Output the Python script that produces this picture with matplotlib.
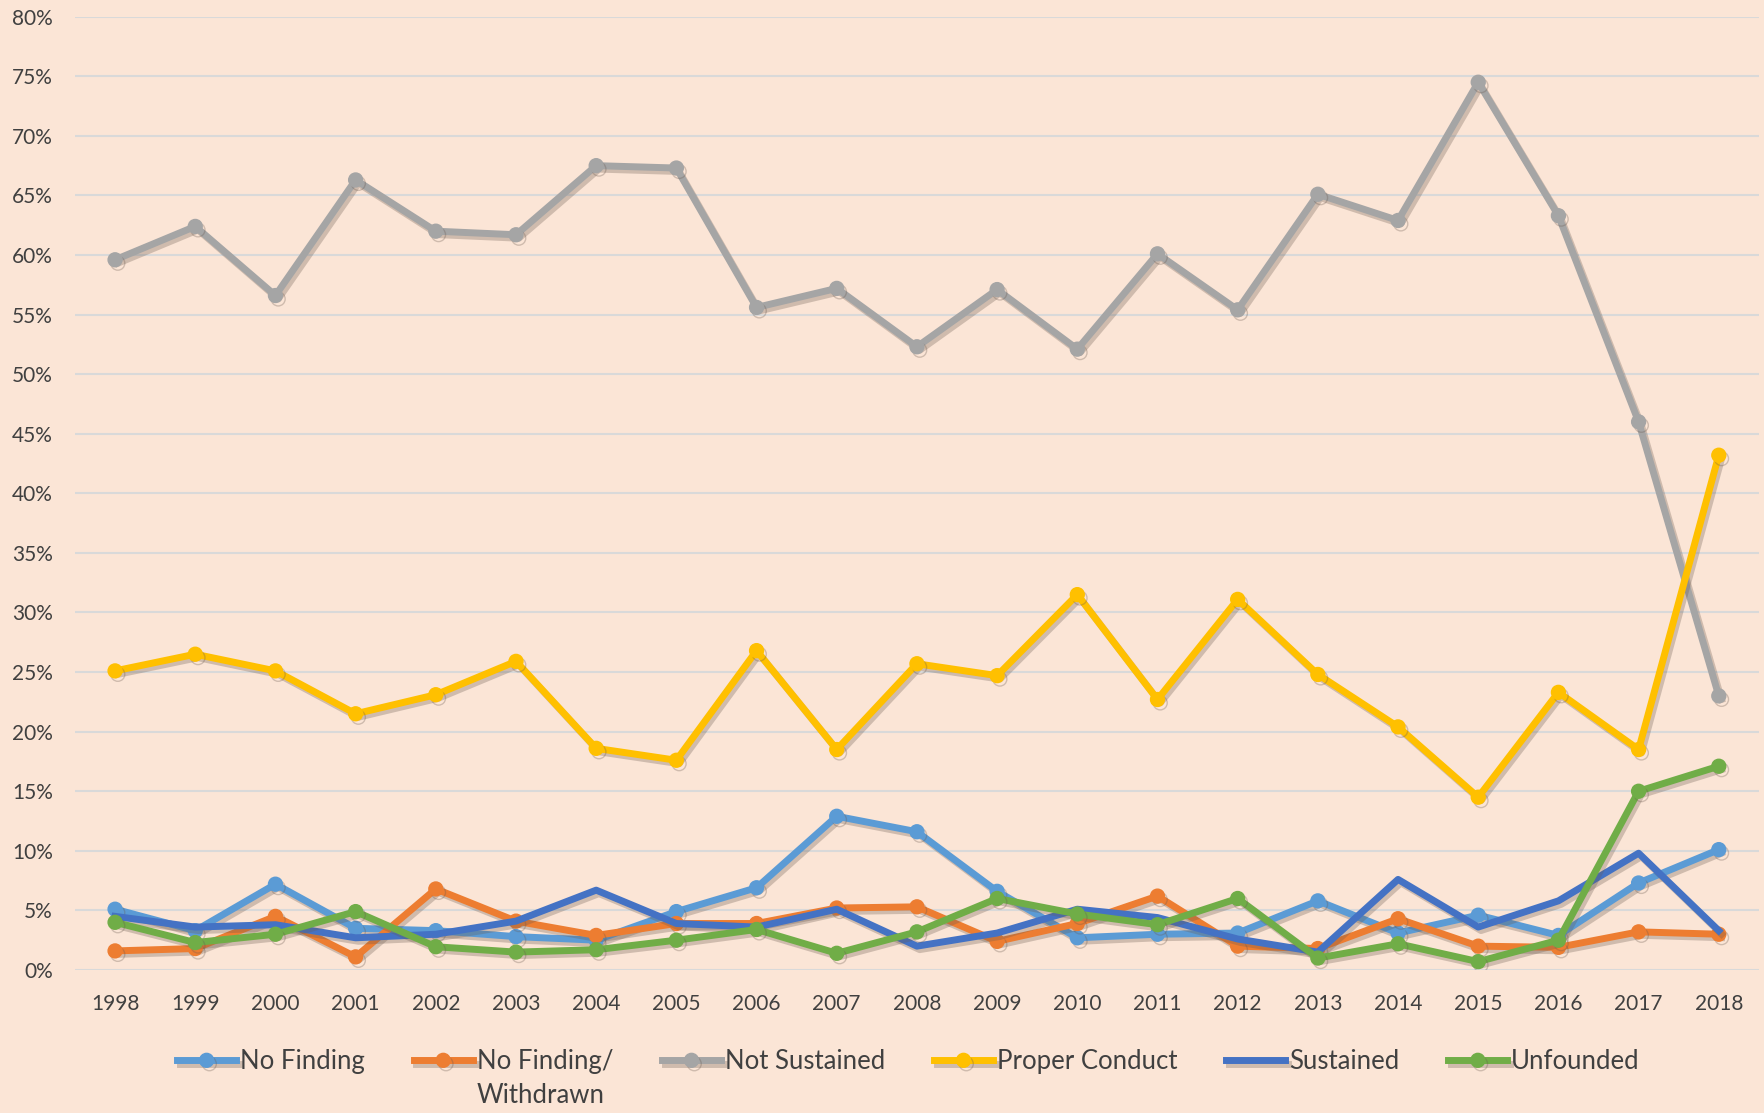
import matplotlib
matplotlib.use("Agg")
import matplotlib.pyplot as plt
import matplotlib.patheffects as pe
from matplotlib.ticker import PercentFormatter

plt.rcParams['font.family'] = ['Lato', 'DejaVu Sans']

years = [str(y) for y in range(1998, 2019)]

no_finding = [5.1, 3.3, 7.2, 3.5, 3.3, 2.8, 2.5, 4.9, 6.9, 12.9, 11.6, 6.6, 2.7, 3.0, 3.1, 5.8, 3.1, 4.6, 2.9, 7.3, 10.1]
no_finding_withdrawn = [1.6, 1.8, 4.5, 1.1, 6.8, 4.1, 2.9, 3.9, 3.9, 5.2, 5.3, 2.4, 3.9, 6.2, 2.0, 1.8, 4.3, 2.0, 1.9, 3.2, 3.0]
not_sustained = [59.6, 62.4, 56.6, 66.3, 62.0, 61.7, 67.5, 67.3, 55.6, 57.2, 52.3, 57.1, 52.1, 60.1, 55.4, 65.1, 62.9, 74.5, 63.3, 46.0, 23.0]
proper_conduct = [25.1, 26.5, 25.1, 21.5, 23.1, 25.9, 18.6, 17.6, 26.8, 18.5, 25.7, 24.7, 31.5, 22.7, 31.1, 24.8, 20.4, 14.5, 23.3, 18.5, 43.2]
sustained = [4.5, 3.6, 3.8, 2.7, 3.0, 4.1, 6.7, 3.9, 3.6, 5.1, 2.0, 3.1, 5.1, 4.4, 2.6, 1.5, 7.6, 3.6, 5.8, 9.8, 3.3]
unfounded = [4.0, 2.3, 3.0, 4.9, 1.95, 1.5, 1.7, 2.5, 3.4, 1.4, 3.2, 6.0, 4.7, 3.8, 6.0, 1.0, 2.2, 0.7, 2.5, 15.0, 17.1]

# (label, values, colour, marker); the orange label wraps onto a second line
series = [
    ("No Finding", no_finding, '#5B9BD5', 'o'),
    ("No Finding/", no_finding_withdrawn, '#ED7D31', 'o'),
    ("Not Sustained", not_sustained, '#A5A5A5', 'o'),
    ("Proper Conduct", proper_conduct, '#FFC000', 'o'),
    ("Sustained", sustained, '#4472C4', None),
    ("Unfounded", unfounded, '#70AD47', 'o'),
]

bg = '#FBE5D6'
txt = '#404040'
fig = plt.figure(figsize=(17.64, 11.13), dpi=100, facecolor=bg)
ax = fig.add_axes([0.0425, 0.1285, 0.9546, 0.8565])
ax.set_facecolor(bg)

shadow = [pe.SimpleLineShadow(offset=(2, -2.5), shadow_color='#6b5a50', alpha=0.3), pe.Normal()]
for label, vals, color, marker in series:
    ax.plot(years, vals, color=color, lw=5, marker=marker, markersize=10,
            label=label, path_effects=shadow)

ax.set_ylim(0, 80)
ax.set_xlim(-0.5, len(years) - 0.5)
ax.set_yticks(range(0, 81, 5))
ax.yaxis.set_major_formatter(PercentFormatter(decimals=0))
ax.grid(axis='y', color='#D9D9D9', lw=1.5)
ax.set_axisbelow(True)
for s in ax.spines.values():
    s.set_visible(False)
ax.tick_params(axis='both', length=0, labelsize=15, colors=txt)
ax.tick_params(axis='y', pad=16)
ax.tick_params(axis='x', pad=17)

leg = fig.legend(loc='upper center', bbox_to_anchor=(0.515, 0.078), ncol=6, frameon=False,
                 fontsize=18.5, handlelength=2.3, handletextpad=0.15, columnspacing=1.9,
                 labelcolor=txt)

# second line of the "No Finding/ Withdrawn" label, left aligned under the first
fig.canvas.draw()
t = leg.get_texts()[1]
bb = t.get_window_extent().transformed(fig.transFigure.inverted())
fig.text(bb.x0, bb.y0 - 0.008, "Withdrawn", fontsize=18.5, color=txt, ha='left', va='top')

fig.savefig('out.png', dpi=100, facecolor=bg)
